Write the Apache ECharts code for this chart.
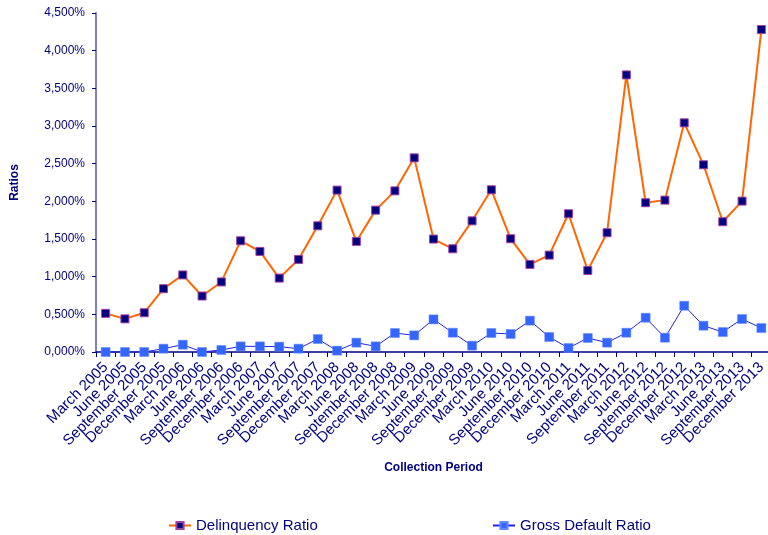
<!DOCTYPE html>
<html>
<head>
<meta charset="utf-8">
<script src="https://cdn.jsdelivr.net/npm/echarts@6/dist/echarts.min.js"></script>
<style>
  html, body { margin: 0; padding: 0; background: #fff; }
  #chart { width: 768px; height: 535px; }
</style>
</head>
<body>
<div id="chart"></div>
<script>
// Quarterly collection periods (no December 2011 entry)
const periods = [
  'March 2005', 'June 2005', 'September 2005', 'December 2005',
  'March 2006', 'June 2006', 'September 2006', 'December 2006',
  'March 2007', 'June 2007', 'September 2007', 'December 2007',
  'March 2008', 'June 2008', 'September 2008', 'December 2008',
  'March 2009', 'June 2009', 'September 2009', 'December 2009',
  'March 2010', 'June 2010', 'September 2010', 'December 2010',
  'March 2011', 'June 2011', 'September 2011',
  'March 2012', 'June 2012', 'September 2012', 'December 2012',
  'March 2013', 'June 2013', 'September 2013', 'December 2013'
];

// Ratios in percent
const delinquencyRatio = [
  0.513, 0.440, 0.521, 0.840,
  1.023, 0.743, 0.930, 1.476,
  1.335, 0.981, 1.229, 1.675,
  2.149, 1.468, 1.883, 2.139,
  2.577, 1.499, 1.370, 1.741,
  2.153, 1.503, 1.163, 1.286,
  1.835, 1.083, 1.583,
  3.678, 1.981, 2.016, 3.042,
  2.485, 1.729, 2.003, 4.280
];

const grossDefaultRatio = [
  0.000, 0.000, 0.000, 0.044,
  0.097, 0.000, 0.027, 0.075,
  0.075, 0.071, 0.044, 0.172,
  0.018, 0.124, 0.075, 0.252,
  0.221, 0.433, 0.256, 0.084,
  0.252, 0.239, 0.416, 0.199,
  0.053, 0.186, 0.124,
  0.256, 0.455, 0.190, 0.614,
  0.349, 0.265, 0.438, 0.318
];

const yTicks = { min: 0, max: 4.5, interval: 0.5 };

const navy = '#000080';
const font = '"Liberation Sans", Arial, sans-serif';

const chart = echarts.init(document.getElementById('chart'), null, { renderer: 'canvas' });

const legendText = { color: navy, fontSize: 15, fontFamily: font };

chart.setOption({
  backgroundColor: '#ffffff',
  animation: false,
  textStyle: { fontFamily: font },
  grid: {
    left: 96, top: 13, width: 675, height: 339,
    containLabel: false, outerBoundsMode: 'none'
  },
  legend: [
    {
      top: 513, left: 163, itemWidth: 22, itemHeight: 9,
      textStyle: legendText, data: ['Delinquency Ratio']
    },
    {
      top: 513, left: 487, itemWidth: 22, itemHeight: 9,
      textStyle: legendText, data: ['Gross Default Ratio']
    }
  ],
  xAxis: {
    type: 'category',
    data: periods,
    boundaryGap: true,
    name: 'Collection Period',
    nameLocation: 'middle',
    nameGap: 110,
    nameTextStyle: { color: navy, fontSize: 12, fontWeight: 'bold', fontFamily: font },
    axisLine: { lineStyle: { color: navy, width: 1.5 } },
    axisTick: { show: true, alignWithLabel: false, length: 5, lineStyle: { color: navy } },
    axisLabel: {
      interval: 0,
      rotate: 45,
      margin: 13,
      color: navy,
      fontSize: 15,
      fontFamily: font
    },
    splitLine: { show: false }
  },
  yAxis: {
    type: 'value',
    min: yTicks.min,
    max: yTicks.max,
    interval: yTicks.interval,
    name: 'Ratios',
    nameLocation: 'middle',
    nameGap: 75,
    nameRotate: 90,
    nameTextStyle: { color: navy, fontSize: 12, fontWeight: 'bold', fontFamily: font },
    axisLine: { show: true, lineStyle: { color: '#8080c0', width: 2 } },
    axisTick: { show: true, length: 4, lineStyle: { color: navy } },
    axisLabel: {
      color: navy,
      fontSize: 12,
      margin: 11,
      fontFamily: font,
      formatter: v => v.toFixed(3).replace('.', ',') + '%'
    },
    splitLine: { show: false }
  },
  series: [
    {
      name: 'Delinquency Ratio',
      type: 'line',
      data: delinquencyRatio,
      symbol: 'rect',
      symbolSize: 8,
      itemStyle: { color: navy, borderColor: '#a040a0', borderWidth: 1 },
      lineStyle: { color: '#ff6600', width: 2 },
      z: 3
    },
    {
      name: 'Gross Default Ratio',
      type: 'line',
      data: grossDefaultRatio,
      symbol: 'rect',
      symbolSize: 9,
      itemStyle: { color: '#3366ff', borderColor: '#6688ff', borderWidth: 0.5 },
      lineStyle: { color: '#2222ee', width: 1 },
      z: 2
    }
  ]
});
</script>
</body>
</html>
